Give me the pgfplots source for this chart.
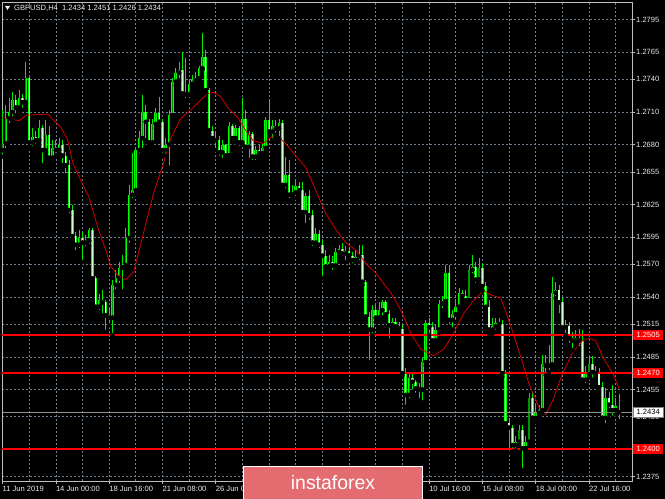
\documentclass[border=0pt]{standalone}
\usepackage{fontspec}
\setmainfont{Liberation Sans}
\usepackage{pgfplots}
\usepackage{pgfplotstable}
\pgfplotsset{compat=1.18}
\definecolor{gridcol}{RGB}{112,128,144}
\definecolor{wickcol}{RGB}{0,235,0}
\definecolor{bullcol}{RGB}{0,150,0}
\definecolor{bearcol}{RGB}{205,255,205}
\definecolor{edgecol}{RGB}{0,255,0}
\definecolor{macol}{RGB}{210,0,0}
\definecolor{levelcol}{RGB}{255,0,0}
\definecolor{axiscol}{RGB}{190,190,190}
\definecolor{labelcol}{RGB}{235,235,235}
\definecolor{wmcol}{RGB}{228,108,112}

% GBPUSD H4 bars: index, open, high, low, close
\pgfplotstableread{
x o h l c
0 1.2675 1.2712 1.2669 1.2681
1 1.2681 1.2716 1.2675 1.2704
2 1.2704 1.2723 1.2698 1.2710
3 1.2710 1.2728 1.2704 1.2721
4 1.2721 1.2726 1.2707 1.2714
5 1.2714 1.2730 1.2710 1.2723
6 1.2723 1.2727 1.2712 1.2719
7 1.2719 1.2756 1.2715 1.2741
8 1.2741 1.2743 1.2678 1.2682
9 1.2682 1.2695 1.2677 1.2687
10 1.2687 1.2693 1.2679 1.2684
11 1.2684 1.2703 1.2680 1.2695
12 1.2695 1.2698 1.2661 1.2675
13 1.2675 1.2703 1.2673 1.2689
14 1.2689 1.2697 1.2666 1.2668
15 1.2668 1.2684 1.2666 1.2677
16 1.2677 1.2684 1.2670 1.2675
17 1.2675 1.2686 1.2673 1.2680
18 1.2680 1.2684 1.2661 1.2670
19 1.2670 1.2673 1.2652 1.2661
20 1.2661 1.2666 1.2615 1.2620
21 1.2620 1.2625 1.2592 1.2596
22 1.2596 1.2600 1.2581 1.2588
23 1.2588 1.2602 1.2583 1.2594
24 1.2594 1.2600 1.2572 1.2590
25 1.2590 1.2597 1.2585 1.2592
26 1.2592 1.2603 1.2587 1.2602
27 1.2602 1.2603 1.2556 1.2557
28 1.2557 1.2559 1.2528 1.2531
29 1.2531 1.2543 1.2526 1.2537
30 1.2537 1.2546 1.2523 1.2535
31 1.2535 1.2537 1.2508 1.2523
32 1.2523 1.2530 1.2514 1.2521
33 1.2521 1.2556 1.2505 1.2551
34 1.2551 1.2565 1.2545 1.2557
35 1.2557 1.2572 1.2551 1.2567
36 1.2567 1.2579 1.2545 1.2569
37 1.2569 1.2603 1.2565 1.2594
38 1.2594 1.2643 1.2588 1.2634
39 1.2634 1.2672 1.2629 1.2638
40 1.2638 1.2677 1.2634 1.2675
41 1.2675 1.2693 1.2670 1.2686
42 1.2686 1.2726 1.2675 1.2710
43 1.2710 1.2716 1.2684 1.2701
44 1.2701 1.2704 1.2680 1.2682
45 1.2682 1.2704 1.2679 1.2699
46 1.2699 1.2714 1.2695 1.2709
47 1.2709 1.2724 1.2697 1.2701
48 1.2701 1.2704 1.2670 1.2675
49 1.2675 1.2686 1.2670 1.2680
50 1.2680 1.2712 1.2659 1.2707
51 1.2707 1.2741 1.2703 1.2738
52 1.2738 1.2750 1.2734 1.2746
53 1.2746 1.2756 1.2739 1.2749
54 1.2749 1.2765 1.2725 1.2727
55 1.2727 1.2760 1.2721 1.2726
56 1.2726 1.2739 1.2721 1.2736
57 1.2736 1.2744 1.2732 1.2739
58 1.2739 1.2747 1.2735 1.2741
59 1.2741 1.2752 1.2739 1.2750
60 1.2750 1.2783 1.2749 1.2761
61 1.2761 1.2767 1.2728 1.2730
62 1.2730 1.2732 1.2690 1.2693
63 1.2693 1.2697 1.2682 1.2686
64 1.2686 1.2692 1.2675 1.2684
65 1.2684 1.2688 1.2668 1.2673
66 1.2673 1.2684 1.2666 1.2680
67 1.2680 1.2681 1.2668 1.2670
68 1.2670 1.2701 1.2666 1.2697
69 1.2697 1.2699 1.2682 1.2686
70 1.2686 1.2698 1.2682 1.2695
71 1.2695 1.2697 1.2677 1.2682
72 1.2682 1.2723 1.2680 1.2704
73 1.2704 1.2712 1.2675 1.2678
74 1.2678 1.2693 1.2666 1.2690
75 1.2690 1.2692 1.2664 1.2669
76 1.2669 1.2679 1.2664 1.2675
77 1.2675 1.2680 1.2668 1.2672
78 1.2672 1.2681 1.2669 1.2677
79 1.2677 1.2705 1.2675 1.2703
80 1.2703 1.2721 1.2689 1.2692
81 1.2692 1.2703 1.2684 1.2697
82 1.2697 1.2703 1.2689 1.2695
83 1.2695 1.2704 1.2686 1.2700
84 1.2700 1.2703 1.2640 1.2643
85 1.2643 1.2669 1.2638 1.2652
86 1.2652 1.2666 1.2629 1.2634
87 1.2634 1.2643 1.2632 1.2636
88 1.2636 1.2647 1.2631 1.2642
89 1.2642 1.2646 1.2636 1.2638
90 1.2638 1.2646 1.2615 1.2618
91 1.2618 1.2636 1.2606 1.2633
92 1.2633 1.2638 1.2609 1.2615
93 1.2615 1.2620 1.2585 1.2590
94 1.2590 1.2603 1.2587 1.2598
95 1.2598 1.2602 1.2583 1.2588
96 1.2588 1.2592 1.2557 1.2578
97 1.2578 1.2583 1.2565 1.2568
98 1.2568 1.2579 1.2565 1.2572
99 1.2572 1.2578 1.2563 1.2569
100 1.2569 1.2585 1.2567 1.2581
101 1.2581 1.2588 1.2578 1.2584
102 1.2584 1.2590 1.2576 1.2580
103 1.2580 1.2587 1.2572 1.2582
104 1.2582 1.2586 1.2574 1.2578
105 1.2578 1.2581 1.2569 1.2574
106 1.2574 1.2583 1.2572 1.2577
107 1.2577 1.2588 1.2572 1.2579
108 1.2579 1.2588 1.2551 1.2554
109 1.2554 1.2556 1.2519 1.2522
110 1.2522 1.2526 1.2480 1.2510
111 1.2510 1.2533 1.2505 1.2528
112 1.2528 1.2533 1.2517 1.2521
113 1.2521 1.2535 1.2519 1.2528
114 1.2528 1.2537 1.2521 1.2535
115 1.2535 1.2537 1.2521 1.2524
116 1.2524 1.2528 1.2500 1.2514
117 1.2514 1.2521 1.2511 1.2517
118 1.2517 1.2521 1.2510 1.2513
119 1.2513 1.2517 1.2508 1.2511
120 1.2511 1.2514 1.2468 1.2470
121 1.2470 1.2475 1.2439 1.2450
122 1.2450 1.2471 1.2445 1.2466
123 1.2466 1.2471 1.2453 1.2462
124 1.2462 1.2464 1.2450 1.2456
125 1.2456 1.2461 1.2445 1.2455
126 1.2455 1.2484 1.2443 1.2480
127 1.2480 1.2519 1.2477 1.2516
128 1.2516 1.2521 1.2505 1.2512
129 1.2512 1.2517 1.2496 1.2500
130 1.2500 1.2514 1.2500 1.2510
131 1.2510 1.2537 1.2507 1.2534
132 1.2534 1.2541 1.2528 1.2536
133 1.2536 1.2569 1.2533 1.2562
134 1.2562 1.2569 1.2513 1.2519
135 1.2519 1.2528 1.2510 1.2524
136 1.2524 1.2537 1.2517 1.2531
137 1.2531 1.2548 1.2528 1.2544
138 1.2544 1.2546 1.2537 1.2541
139 1.2541 1.2546 1.2534 1.2537
140 1.2537 1.2569 1.2535 1.2565
141 1.2565 1.2579 1.2560 1.2568
142 1.2568 1.2572 1.2551 1.2556
143 1.2556 1.2576 1.2552 1.2567
144 1.2567 1.2571 1.2546 1.2550
145 1.2550 1.2554 1.2528 1.2531
146 1.2531 1.2537 1.2506 1.2510
147 1.2510 1.2521 1.2506 1.2513
148 1.2513 1.2521 1.2508 1.2516
149 1.2516 1.2521 1.2511 1.2515
150 1.2515 1.2519 1.2467 1.2470
151 1.2470 1.2473 1.2421 1.2424
152 1.2424 1.2429 1.2397 1.2420
153 1.2420 1.2422 1.2398 1.2404
154 1.2404 1.2412 1.2399 1.2407
155 1.2407 1.2422 1.2404 1.2418
156 1.2418 1.2422 1.2381 1.2401
157 1.2401 1.2412 1.2398 1.2407
158 1.2407 1.2452 1.2404 1.2447
159 1.2447 1.2453 1.2425 1.2429
160 1.2429 1.2441 1.2425 1.2433
161 1.2433 1.2441 1.2429 1.2436
162 1.2436 1.2487 1.2433 1.2478
163 1.2478 1.2487 1.2468 1.2477
164 1.2477 1.2496 1.2471 1.2478
165 1.2478 1.2558 1.2476 1.2544
166 1.2544 1.2554 1.2539 1.2546
167 1.2546 1.2551 1.2523 1.2535
168 1.2535 1.2539 1.2508 1.2512
169 1.2512 1.2519 1.2505 1.2513
170 1.2513 1.2517 1.2496 1.2502
171 1.2502 1.2508 1.2491 1.2500
172 1.2500 1.2510 1.2496 1.2502
173 1.2502 1.2511 1.2493 1.2500
174 1.2500 1.2510 1.2462 1.2464
175 1.2464 1.2477 1.2459 1.2469
176 1.2469 1.2487 1.2466 1.2478
177 1.2478 1.2486 1.2464 1.2471
178 1.2471 1.2477 1.2466 1.2470
179 1.2470 1.2475 1.2453 1.2457
180 1.2457 1.2462 1.2425 1.2429
181 1.2429 1.2456 1.2422 1.2447
182 1.2447 1.2453 1.2436 1.2441
183 1.2441 1.2459 1.2429 1.2436
184 1.2436 1.2447 1.2432 1.2440
185 1.2434 1.2451 1.2426 1.2434
}\bars

\begin{document}
\begin{tikzpicture}
\useasboundingbox (0,0) rectangle (665bp,499bp);
\fill[black] (0,0) rectangle (665bp,499bp);
\begin{axis}[
    at={(2bp,18bp)}, anchor=south west,
    scale only axis, width=630bp, height=479bp,
    xmin=-0.15, xmax=188.9, ymin=1.23709, ymax=1.28111,
    axis line style={axiscol, line width=0.8bp},
    xtick pos=left, ytick pos=right,
    xticklabel pos=left, yticklabel pos=right,
    tick align=outside, major tick length=3bp, minor tick length=0pt,
    tick style={axiscol, line width=0.6bp},
    xtick={0,16,...,176},
    minor xtick={8,24,...,184},
    xticklabels={11 Jun 2019, 14 Jun 00:00, 18 Jun 16:00, 21 Jun 08:00, 26 Jun 00:00, 28 Jun 16:00, 3 Jul 08:00, 8 Jul 00:00, 10 Jul 16:00, 15 Jul 08:00, 18 Jul 00:00, 22 Jul 16:00},
    ytick={1.2375,1.2400,1.2430,1.2455,1.2485,1.2515,1.2540,1.2570,1.2595,1.2625,1.2655,1.2680,1.2710,1.2740,1.2765,1.2795},
    yticklabels={1.2375,1.2400,1.2430,1.2455,1.2485,1.2515,1.2540,1.2570,1.2595,1.2625,1.2655,1.2680,1.2710,1.2740,1.2765,1.2795},
    ymajorgrids, xmajorgrids, xminorgrids,
    major grid style={gridcol, dash pattern=on 2bp off 2bp, line width=0.6bp},
    minor grid style={gridcol, dash pattern=on 2bp off 2bp, line width=0.6bp},
    every tick label/.append style={font=\fontsize{7.6}{8}\selectfont, text=labelcol},
    yticklabel style={anchor=west, inner sep=1bp},
    xticklabel style={anchor=north west, inner sep=1bp, xshift=-1bp, yshift=-1bp},
]
% wicks
\addplot[only marks, mark=none, forget plot,
    error bars/.cd, y dir=plus, y explicit, error mark=none,
    error bar style={draw=wickcol, solid, line width=0.7bp}]
    table[x=x, y=l, y error plus expr=\thisrow{h}-\thisrow{l}] {\bars};
% bull bodies
\addplot[only marks, mark=none, forget plot,
    restrict expr to domain={\thisrow{c}-\thisrow{o}}{0:1},
    error bars/.cd, y dir=plus, y explicit, error mark=none,
    error bar style={draw=edgecol, solid, line width=2.6bp}]
    table[x=x, y=o, y error plus expr=\thisrow{c}-\thisrow{o}] {\bars};
\addplot[only marks, mark=none, forget plot,
    restrict expr to domain={\thisrow{c}-\thisrow{o}}{0:1},
    error bars/.cd, y dir=plus, y explicit, error mark=none,
    error bar style={draw=bullcol, solid, line width=1.1bp}]
    table[x=x, y=o, y error plus expr=\thisrow{c}-\thisrow{o}] {\bars};
% bear bodies
\addplot[only marks, mark=none, forget plot,
    restrict expr to domain={\thisrow{o}-\thisrow{c}}{0.00001:1},
    error bars/.cd, y dir=plus, y explicit, error mark=none,
    error bar style={draw=edgecol, solid, line width=2.6bp}]
    table[x=x, y=c, y error plus expr=\thisrow{o}-\thisrow{c}] {\bars};
\addplot[only marks, mark=none, forget plot,
    restrict expr to domain={\thisrow{o}-\thisrow{c}}{0.00001:1},
    error bars/.cd, y dir=plus, y explicit, error mark=none,
    error bar style={draw=bearcol, solid, line width=1.1bp}]
    table[x=x, y=c, y error plus expr=\thisrow{o}-\thisrow{c}] {\bars};
% moving average
\addplot[macol, line width=0.8bp, mark=none] coordinates {
(0,1.2705) (5,1.2702) (7,1.2707) (13.6,1.2708) (14.5,1.2705) (17.5,1.2696)
(19.6,1.2684) (21.1,1.2663) (23.5,1.2647) (25.9,1.2632) (28.6,1.2604) (31,1.2583)
(32.5,1.2568) (34.6,1.2560) (37,1.2556) (39.4,1.2563) (42.4,1.2600) (45.4,1.2636)
(48.1,1.2661) (50.5,1.2686) (53.5,1.2704) (56.5,1.2712) (59.5,1.2721) (61.6,1.2727)
(63.4,1.2728) (65.5,1.2724) (67.6,1.2714) (70.6,1.2705) (73,1.2693) (75.1,1.2684)
(78.1,1.2681) (81.1,1.2688) (82.9,1.2687) (85,1.2681) (87.4,1.2672) (91,1.2659)
(94,1.2638) (97,1.2617) (100,1.2602) (103,1.2590) (106,1.2583) (109,1.2571)
(112,1.2562) (113.5,1.2556) (116.5,1.2544) (119.5,1.2528) (122.5,1.2507) (125.5,1.2492)
(129.4,1.2486) (132.4,1.2492) (135.4,1.2507) (138.4,1.2525) (141.4,1.2537) (144.4,1.2546)
(146.5,1.2542) (149.5,1.2539) (151.9,1.2519) (154.9,1.2491) (157.9,1.2461) (160.9,1.2439)
(163,1.2432) (165.1,1.2445) (168.1,1.2470) (171.1,1.2489) (174.1,1.2500) (175.9,1.2502)
(178,1.2500) (180.1,1.2485) (183.1,1.2470) (185,1.2456)
};
% levels
\addplot[draw=levelcol, line width=1.8bp, mark=none] coordinates {(-1,1.2505) (190,1.2505)};
\addplot[draw=levelcol, line width=1.8bp, mark=none] coordinates {(-1,1.2470) (190,1.2470)};
\addplot[draw=levelcol, line width=1.8bp, mark=none] coordinates {(-1,1.2400) (190,1.2400)};
\addplot[draw=gray!85, line width=1.2bp, mark=none] coordinates {(-1,1.2434) (190,1.2434)};
\coordinate (L2505) at (axis cs:188.9,1.2505);
\coordinate (L2470) at (axis cs:188.9,1.2470);
\coordinate (L2400) at (axis cs:188.9,1.2400);
\coordinate (L2434) at (axis cs:188.9,1.2434);
\end{axis}
\foreach \n/\t in {L2505/1.2505, L2470/1.2470, L2400/1.2400}
  \node[fill=levelcol, text=white, anchor=west, inner sep=0pt, minimum height=10bp,
        minimum width=30bp, font=\fontsize{7.6}{8}\selectfont] at ([xshift=1bp]\n) {\t};
\node[fill=white, draw=gray, text=black, anchor=west, inner sep=0pt, minimum height=10bp,
      minimum width=30bp, font=\fontsize{7.6}{8}\selectfont] at ([xshift=1bp]L2434) {1.2434};
% title
\fill[labelcol] (5bp,493bp) -- (10bp,493bp) -- (7.5bp,489bp) -- cycle;
\node[anchor=west, text=labelcol, inner sep=0pt, font=\fontsize{7.6}{8}\selectfont]
  at (14bp,491bp) {GBPUSD,H4\ \ 1.2434 1.2451 1.2426 1.2434};
% watermark
\fill[wmcol, draw=white, line width=1bp] (243bp,-2bp) rectangle (422bp,32bp);
\node[text=white, font=\fontsize{19.5}{20}\selectfont] at (333bp,16bp) {instaforex};
\end{tikzpicture}
\end{document}
